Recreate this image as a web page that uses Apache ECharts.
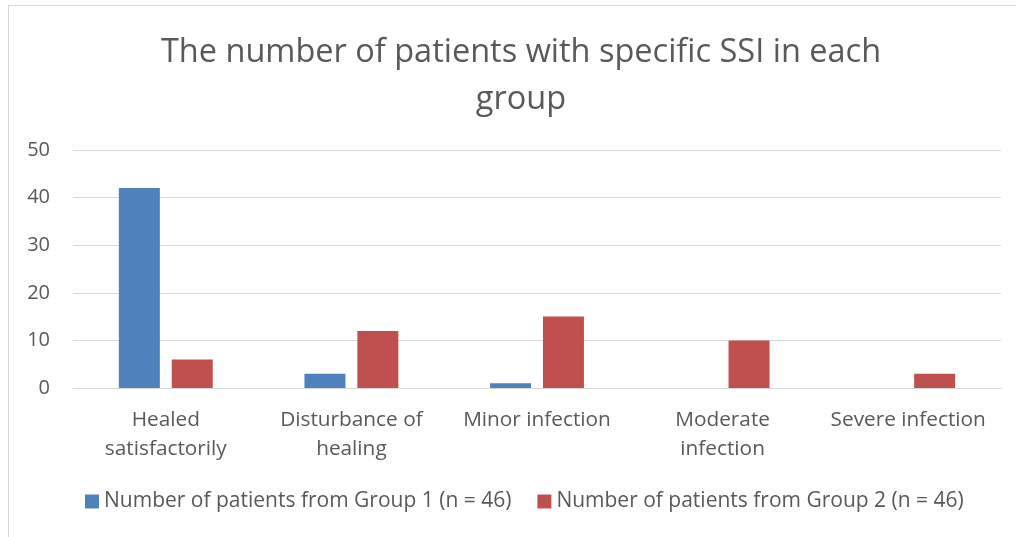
<!DOCTYPE html>
<html>
<head>
<meta charset="utf-8">
<script src="https://cdn.jsdelivr.net/npm/echarts@6/dist/echarts.min.js"></script>
<style>
  html, body { margin: 0; padding: 0; background: #fff; }
  #main { width: 1016px; height: 537px; }
  .frame { position: absolute; left: 8px; top: 5px; width: 1100px; height: 600px;
           border-left: 1px solid #d9d9d9; border-top: 1px solid #d9d9d9; pointer-events: none; }
</style>
</head>
<body>
<div id="main"></div>
<div class="frame"></div>
<script>
// chart data
var categories = ['Healed\nsatisfactorily', 'Disturbance of\nhealing', 'Minor infection', 'Moderate\ninfection', 'Severe infection'];
var group1 = [42, 3, 1, 0, 0];
var group2 = [6, 12, 15, 10, 3];
var seriesNames = ['Number of patients from Group 1 (n = 46)', 'Number of patients from Group 2 (n = 46)'];

var font = 'Open Sans';
var chart = echarts.init(document.getElementById('main'));
chart.setOption({
  animation: false,
  color: ['#4f81bd', '#c0504d'],
  title: {
    text: 'The number of patients with specific SSI in each\ngroup',
    left: 516,
    textAlign: 'center',
    top: 24,
    textStyle: { fontFamily: font, fontSize: 32.5, fontWeight: 'normal', color: '#595959', lineHeight: 47 }
  },
  legend: {
    left: 80,
    bottom: 20,
    itemWidth: 14,
    itemHeight: 14,
    itemGap: 26,
    icon: 'rect',
    textStyle: { fontFamily: font, fontSize: 21, color: '#595959' }
  },
  grid: { left: 73, right: 15, top: 150, bottom: 149, containLabel: false },
  xAxis: {
    type: 'category',
    data: categories,
    axisLine: { lineStyle: { color: '#d9d9d9', width: 1 } },
    axisTick: { show: false },
    axisLabel: { interval: 0, fontFamily: font, fontSize: 20.8, color: '#595959', lineHeight: 29, margin: 18 }
  },
  yAxis: {
    type: 'value',
    min: 0, max: 50, interval: 10,
    axisLine: { show: false },
    axisTick: { show: false },
    splitLine: { lineStyle: { color: '#d9d9d9', width: 1 } },
    axisLabel: { fontFamily: font, fontSize: 20, color: '#595959', margin: 23 }
  },
  series: [
    { name: seriesNames[0], type: 'bar', data: group1, barWidth: 41, barGap: '29%' },
    { name: seriesNames[1], type: 'bar', data: group2, barWidth: 41 }
  ]
});
</script>
</body>
</html>
